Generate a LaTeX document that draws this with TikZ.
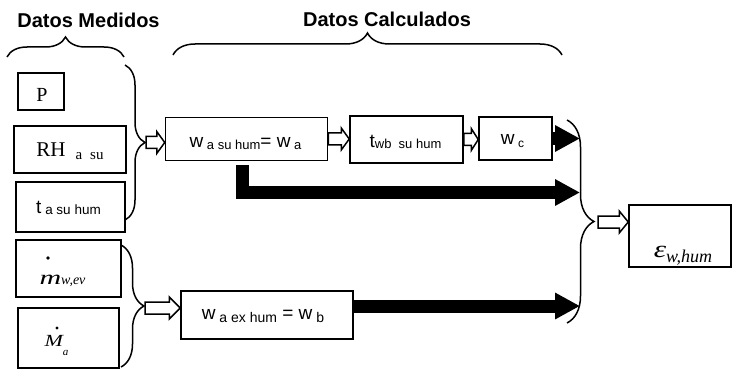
\documentclass[tikz,border=0pt]{standalone}
\usepackage{fontspec}
\setmainfont{Liberation Serif}
\newfontfamily\arial{Liberation Sans}
\usetikzlibrary{decorations.pathreplacing,arrows.meta,calc}
\newcommand\fs[1]{\fontsize{#1}{#1}\selectfont}
\newcommand\tx[3]{\hspace*{#1pt}\hspace*{#1pt}\raisebox{-#2pt}[0pt][0pt]{#3}}
\newcommand\hollow[3]{%
  \draw[harrow] let \p1=(#1), \p2=(#2) in
    (\x1,\y1+6pt) -- (\x2-#3,\y1+6pt) -- (\x2-#3,\y1+11pt) -- (\x2,\y1)
    -- (\x2-#3,\y1-11pt) -- (\x2-#3,\y1-6pt) -- (\x1,\y1-6pt) -- cycle;}
\begin{document}
\begin{tikzpicture}[x=1pt,y=-1pt,
  box/.style={draw,line width=1.5pt,inner sep=0pt},
  brc/.style={line width=1.5pt,decorate,decoration={brace,amplitude=#1}},
  harrow/.style={draw,line width=1.5pt,fill=white,line join=miter},
  blk/.style={line width=13pt,-{Triangle[length=25pt,width=25pt]}},
  title/.style={font=\arial\bfseries\fs{20},anchor=base,inner sep=0pt}]
\useasboundingbox (0,0) rectangle (732,369);

% titles
\node[title] (tm) at (88.5,28) {Datos Medidos};
\node[title] (tc) at (387,27) {Datos Calculados};

% braces
\draw[brc=20pt] (7,57) -- (124,57);
\draw[brc=22pt] (173,55) -- (562,55);
\draw[brc=20pt] (125,65) -- (125,220);
\draw[brc=23pt] (121,245) -- (121,367);
\draw[brc=27pt] (567,120) -- (567,323);
\coordinate (b1tip) at (146,142.5);
\coordinate (b2tip) at (145,308);
\coordinate (b3tip) at (598,222);
\coordinate (rb) at (580,222);
\coordinate (lmid) at (580,192.5);

% measured data boxes
\node[box,minimum width=46pt,minimum height=37pt] (p) at (41,91.5)
  {\tx{1}{10}{\fs{20}P}};
\node[box,minimum width=112pt,minimum height=47pt] (rh) at (70,149.5)
  {\tx{0}{7.5}{\fs{21}RH\hspace{10pt}\raisebox{-3pt}{\fs{15}a\hspace{8pt}su}}};
\node[box,minimum width=109pt,minimum height=50pt] (ta) at (70.5,207)
  {\tx{-2}{6}{\arial\fs{19}t\raisebox{-2pt}{\fs{13.5}\ a su hum}}};
\node[box,minimum width=105pt,minimum height=57pt] (mw) at (68.5,268.5)
  {\tx{-6}{16.5}{\itshape\scalebox{1.5}[1]{\fs{20}m}\fs{14}w,ev}};
\node[box,minimum width=101pt,minimum height=60pt] (ma) at (68.5,338)
  {\tx{-12}{8}{\itshape\scalebox{1.3}[1]{\fs{17}M}\raisebox{-9pt}{\fs{11}a}}};
\fill ([xshift=-20.5pt,yshift=10.5pt]mw.center) circle (1.8pt);
\fill ([xshift=-11.5pt,yshift=10pt]ma.center) circle (1.6pt);

% calculated data boxes
\node[box,minimum width=162pt,minimum height=43pt] (wa) at (246.5,139)
  {\tx{-1}{9}{\arial\fs{19}w\raisebox{-2pt}{\fs{13}\ a su hum}= w\raisebox{-2pt}{\fs{13}\ a}}};
\node[box,minimum width=113pt,minimum height=47pt] (twb) at (406.5,139.5)
  {\tx{-1}{8}{\arial\fs{19}t\raisebox{-1pt}{\fs{13}wb\ \ su hum}}};
\node[box,minimum width=73pt,minimum height=43pt] (wc) at (515.5,138.5)
  {\tx{-3}{6.5}{\arial\fs{19}w\raisebox{-3pt}{\fs{12}\ c}}};
\node[box,minimum width=172pt,minimum height=48pt] (wb) at (267,315)
  {\tx{-4}{4.5}{\arial\fs{19}w\raisebox{-3pt}{\fs{14}\ a ex hum} = w\raisebox{-3pt}{\fs{14}\ b}}};
\node[box,minimum width=102pt,minimum height=62pt] (eps) at (680,236)
  {\tx{3}{21}{\itshape\scalebox{1.3}[1]{\fs{24}ε}\raisebox{-5pt}{\fs{18}w,hum}}};

% hollow arrows
\hollow{b1tip}{wa.west}{8pt}
\hollow{wa.east}{twb.west}{8pt}
\hollow{twb.east}{wc.west}{7pt}
\hollow{b2tip}{wb.west}{11pt}
\hollow{b3tip}{eps.west}{9pt}

% black arrows
\draw[blk] (wc.east) -- (wc.east -| rb);
\draw[blk] ([xshift=-4.5pt,yshift=-4pt]wa.south) |- (lmid);
\draw[blk] ([yshift=9pt]wb.east) -- ([yshift=9pt]wb.east -| rb);
\end{tikzpicture}
\end{document}
